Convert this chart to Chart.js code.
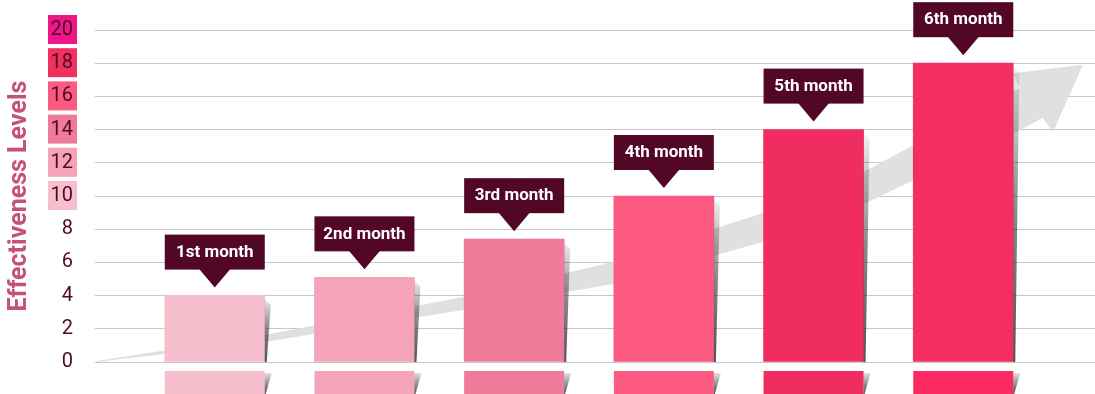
<!DOCTYPE html>
<html>
<head>
<meta charset="utf-8">
<script src="https://cdn.jsdelivr.net/npm/chart.js@4/dist/chart.umd.min.js"></script>
<style>
  body { margin: 0; background: #fff; }
  #wrap { width: 1095px; height: 394px; }
</style>
</head>
<body>
<div id="wrap"><canvas id="chart" width="1095" height="394"></canvas></div>
<script>
// Daten
const months = ['1st month', '2nd month', '3rd month', '4th month', '5th month', '6th month'];
const effectiveness = [4, 5.1, 7.4, 10, 14, 18];
const barColors = ['#f7bfce', '#f5a3b8', '#f07a9a', '#fd5a82', '#f02d60', '#f32e60'];
const stripColors = ['#f7bfce', '#f5a3b8', '#f07a9a', '#fd5a82', '#f02d60', '#fd2a62'];
const yTicks = [0, 2, 4, 6, 8, 10, 12, 14, 16, 18, 20];
const boxedTicks = [10, 12, 14, 16, 18, 20];
const boxedColors = ['#f7bfce', '#f5a3b8', '#f07a9a', '#fd5a82', '#f0305e', '#ef168a'];

// Pfeil im Hintergrund (x = Position der Monate, y = Wert)
const arrowX = [0.21, 1.33, 2.66, 3.66, 4.66, 5.32, 6.38, 6.33, 6.80, 6.60, 6.53, 6.38, 5.32, 4.66, 3.66, 2.66, 1.33, 0.21];
const arrowY = [0.06, 1.63, 3.92, 6.02, 8.98, 11.39, 16.5, 17.4, 17.9, 13.86, 14.7, 13.98, 9.46, 7.23, 4.7, 3.13, 1.2, 0];

const ARROW_COLOR = '#e0e0e0';
const LABEL_BG = '#520727';
const TEXT_DARK = '#4f0a24';

const decorPlugin = {
    id: 'decor',
    beforeDraw(chart) {
        // farbige Kästchen hinter den oberen Achsenbeschriftungen
        const ctx = chart.ctx;
        const y = chart.scales.y;
        ctx.save();
        boxedTicks.forEach((t, i) => {
            const py = y.getPixelForValue(t);
            ctx.fillStyle = boxedColors[i];
            ctx.fillRect(48, py - 15, 29, 29);
        });
        ctx.restore();
    },
    beforeDatasetsDraw(chart) {
        const ctx = chart.ctx;
        const xs = chart.scales.x, ys = chart.scales.y;
        ctx.save();
        ctx.fillStyle = ARROW_COLOR;
        ctx.beginPath();
        arrowX.forEach((v, i) => {
            const px = xs.getPixelForValue(v);
            const py = ys.getPixelForValue(arrowY[i]);
            if (i === 0) ctx.moveTo(px, py); else ctx.lineTo(px, py);
        });
        ctx.closePath();
        ctx.fill();
        ctx.restore();
    },
    afterDatasetsDraw(chart) {
        const ctx = chart.ctx;
        const meta = chart.getDatasetMeta(0);
        const bottom = chart.chartArea.bottom;
        ctx.save();
        meta.data.forEach((bar, i) => {
            const left = bar.x - bar.width / 2;
            const right = bar.x + bar.width / 2;
            const top = bar.y;

            // Schatten rechts vom Balken
            let g = ctx.createLinearGradient(0, top, 0, bottom);
            g.addColorStop(0, 'rgba(0,0,0,0.03)');
            g.addColorStop(0.5, 'rgba(40,40,40,0.55)');
            g.addColorStop(1, 'rgba(40,40,40,0.8)');
            ctx.fillStyle = g;
            ctx.beginPath();
            ctx.moveTo(right, top + 4);
            ctx.lineTo(right + 6, top + 9);
            ctx.lineTo(right + 2, bottom);
            ctx.lineTo(right, bottom);
            ctx.closePath();
            ctx.fill();

            // Streifen unterhalb der Achse
            ctx.fillStyle = stripColors[i];
            ctx.fillRect(left, bottom + 9, right - left, chart.height - bottom - 9);
            g = ctx.createLinearGradient(0, bottom + 9, 0, chart.height);
            g.addColorStop(0, 'rgba(0,0,0,0.05)');
            g.addColorStop(1, 'rgba(40,40,40,0.8)');
            ctx.fillStyle = g;
            ctx.beginPath();
            ctx.moveTo(right, bottom + 11);
            ctx.lineTo(right + 7, bottom + 11);
            ctx.lineTo(right + 1, chart.height);
            ctx.lineTo(right, chart.height);
            ctx.closePath();
            ctx.fill();

            // Beschriftung mit Pfeil
            const boxBottom = top - 26;
            const boxTop = boxBottom - 35;
            ctx.fillStyle = LABEL_BG;
            ctx.fillRect(left, boxTop, right - left, 35);
            ctx.beginPath();
            ctx.moveTo(bar.x - 16, boxBottom - 1);
            ctx.lineTo(bar.x + 16, boxBottom - 1);
            ctx.lineTo(bar.x, top - 8);
            ctx.closePath();
            ctx.fill();
            ctx.fillStyle = '#ffffff';
            ctx.font = 'bold 17px Roboto';
            ctx.textAlign = 'center';
            ctx.textBaseline = 'middle';
            ctx.fillText(months[i], bar.x, boxTop + 18);
        });
        ctx.restore();
    }
};

new Chart(document.getElementById('chart'), {
    type: 'bar',
    data: {
        datasets: [{
            label: 'Effectiveness',
            data: effectiveness.map((v, i) => ({ x: i + 1, y: v })),
            backgroundColor: barColors,
            barThickness: 100,
            borderWidth: 0
        }]
    },
    options: {
        responsive: false,
        animation: false,
        layout: { padding: { top: 30, bottom: 32, left: 0, right: 0 } },
        plugins: {
            legend: { display: false },
            tooltip: { enabled: false }
        },
        scales: {
            x: {
                type: 'linear',
                display: false,
                offset: false,
                min: 0.2,
                max: 6.88
            },
            y: {
                min: 0,
                max: 20,
                afterFit(scale) {
                    scale.width = 95;
                    scale.paddingTop = 0;
                    scale.paddingBottom = 0;
                },
                afterBuildTicks(scale) { scale.ticks = yTicks.map(v => ({ value: v })); },
                border: { display: false },
                grid: { color: '#c6c6c6', lineWidth: 1, drawTicks: false },
                ticks: {
                    padding: 22,
                    color: TEXT_DARK,
                    font: { family: 'Roboto', size: 20 }
                },
                title: {
                    display: true,
                    text: 'Effectiveness Levels',
                    color: '#c4527f',
                    font: { family: 'Roboto', size: 25, weight: 'bold' },
                    padding: { top: 5, bottom: 2 }
                }
            }
        }
    },
    plugins: [decorPlugin]
});
</script>
</body>
</html>
